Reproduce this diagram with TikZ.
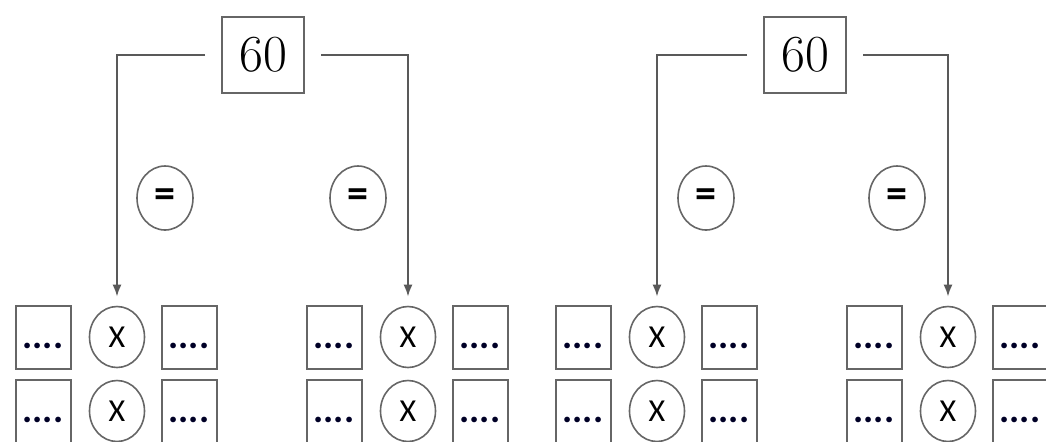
\documentclass[tikz,border=0pt]{standalone}
\usepackage{fontspec}
\newfontfamily\sansx{Carlito}
\usetikzlibrary{shapes.geometric,arrows.meta}

\tikzset{
	numbox/.style={draw=black!60, line width=1pt, minimum width=41pt, minimum height=38pt, inner sep=0pt, font=\fontsize{26}{26}\selectfont},
	blank/.style={draw=black!60, line width=1pt, minimum width=27.5pt, minimum height=31.5pt, inner sep=0pt, text height=11.5pt, text depth=0pt, text=black!85!blue, font=\sansx\bfseries\fontsize{19}{19}\selectfont},
	timescirc/.style={ellipse, draw=black!60, line width=0.8pt, minimum width=27.5pt, minimum height=30.5pt, inner sep=0pt, font=\sansx\fontsize{16}{16}\selectfont},
	eqcirc/.style={ellipse, draw=black!60, line width=0.8pt, minimum width=28pt, minimum height=32pt, inner sep=0pt, font=\sansx\bfseries\fontsize{21}{21}\selectfont},
	link/.style={draw=black!65, line width=1pt, -{Latex[length=6pt,width=4.5pt]}, shorten <=8pt, shorten >=4.5pt}
}

\begin{document}
\begin{tikzpicture}[x=0.5pt,y=-0.5pt]
	\clip (0,0) rectangle (1046,441);

	%top boxes
	\node[numbox] (sixtyA) at (263,55) {60};
	\node[numbox] (sixtyB) at (805,55) {60};

	%equals
	\foreach \ex [count=\e] in {165,358,706,897}
		\node[eqcirc] (eq\e) at (\ex,198) {=};

	%bottom rows
	\foreach \cx [count=\g] in {117,408,657,948}{
		\foreach \cy [count=\r] in {337,411}{
			\node[blank] (l\g-\r) at (\cx-74,\cy) {....};
			\node[timescirc] (x\g-\r) at (\cx,\cy) {X};
			\node[blank] (r\g-\r) at (\cx+72,\cy) {....};
		}
	}

	%paths
	\draw[link] (sixtyA.west) -| (x1-1.north);
	\draw[link] (sixtyA.east) -| (x2-1.north);
	\draw[link] (sixtyB.west) -| (x3-1.north);
	\draw[link] (sixtyB.east) -| (x4-1.north);

\end{tikzpicture}
\end{document}
